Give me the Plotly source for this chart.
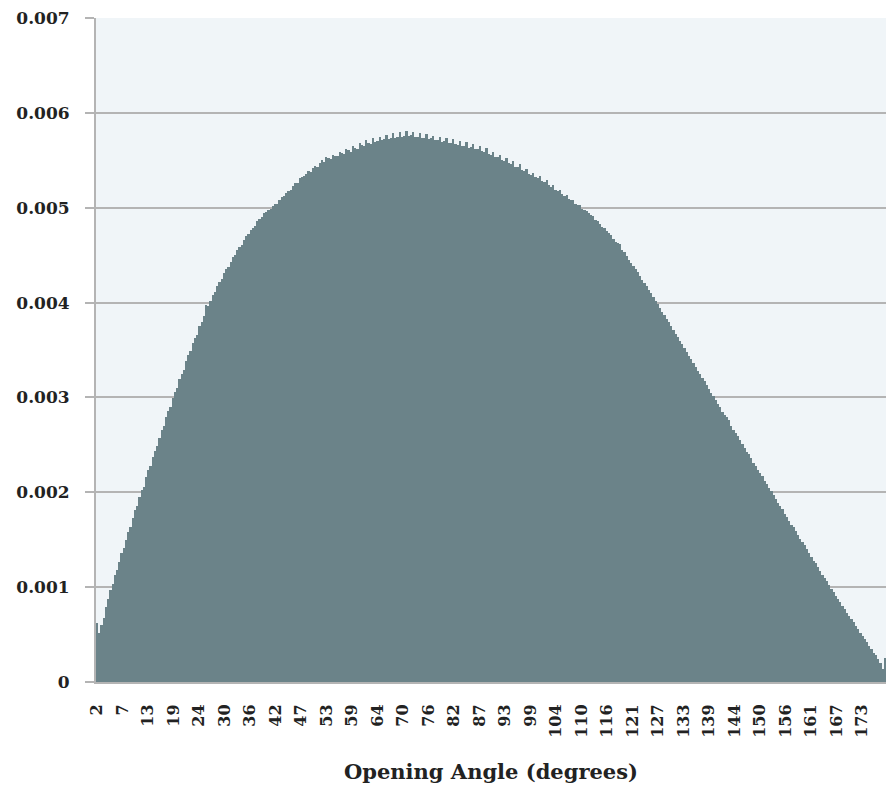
import math
import plotly.graph_objects as go

# Histogram bin centres (degrees), 0.5-degree bins
angle_start = 2.0
bin_width = 0.5

# Normalised frequency, one value per bin (2.0 ... 179.0 deg)
density = [
    0.00062, 0.00052, 0.00060, 0.00068, 0.00079, 0.00087, 0.00097, 0.00103, 0.00113, 0.00118,
    0.00127, 0.00136, 0.00141, 0.00150, 0.00158, 0.00163, 0.00173, 0.00181, 0.00186, 0.00195,
    0.00202, 0.00206, 0.00216, 0.00224, 0.00228, 0.00237, 0.00244, 0.00249, 0.00257, 0.00266,
    0.00270, 0.00279, 0.00286, 0.00290, 0.00299, 0.00306, 0.00310, 0.00319, 0.00325, 0.00329,
    0.00338, 0.00345, 0.00349, 0.00357, 0.00363, 0.00366, 0.00375, 0.00380, 0.00386, 0.00397,
    0.00396, 0.00402, 0.00408, 0.00411, 0.00417, 0.00422, 0.00425, 0.00431, 0.00435, 0.00437,
    0.00443, 0.00448, 0.00450, 0.00455, 0.00459, 0.00461, 0.00466, 0.00470, 0.00472, 0.00477,
    0.00479, 0.00481, 0.00486, 0.00488, 0.00490, 0.00494, 0.00495, 0.00498, 0.00499, 0.00502,
    0.00504, 0.00504, 0.00508, 0.00511, 0.00512, 0.00516, 0.00518, 0.00519, 0.00523, 0.00526,
    0.00526, 0.00531, 0.00532, 0.00533, 0.00536, 0.00539, 0.00538, 0.00542, 0.00544, 0.00543,
    0.00547, 0.00550, 0.00548, 0.00553, 0.00552, 0.00551, 0.00556, 0.00555, 0.00555, 0.00559,
    0.00558, 0.00557, 0.00562, 0.00561, 0.00559, 0.00565, 0.00563, 0.00562, 0.00568, 0.00566,
    0.00565, 0.00571, 0.00568, 0.00567, 0.00574, 0.00569, 0.00570, 0.00575, 0.00571, 0.00572,
    0.00577, 0.00572, 0.00574, 0.00579, 0.00574, 0.00575, 0.00580, 0.00575, 0.00576, 0.00581,
    0.00576, 0.00577, 0.00580, 0.00575, 0.00575, 0.00579, 0.00574, 0.00573, 0.00578, 0.00572,
    0.00573, 0.00576, 0.00571, 0.00571, 0.00575, 0.00569, 0.00570, 0.00573, 0.00568, 0.00568,
    0.00572, 0.00567, 0.00566, 0.00570, 0.00565, 0.00565, 0.00569, 0.00563, 0.00564, 0.00567,
    0.00562, 0.00562, 0.00565, 0.00560, 0.00559, 0.00563, 0.00557, 0.00556, 0.00559, 0.00553,
    0.00553, 0.00556, 0.00550, 0.00549, 0.00552, 0.00547, 0.00546, 0.00549, 0.00543, 0.00543,
    0.00546, 0.00540, 0.00539, 0.00541, 0.00536, 0.00535, 0.00537, 0.00532, 0.00531, 0.00533,
    0.00528, 0.00527, 0.00529, 0.00524, 0.00522, 0.00524, 0.00519, 0.00518, 0.00519, 0.00514,
    0.00512, 0.00513, 0.00509, 0.00508, 0.00508, 0.00504, 0.00503, 0.00503, 0.00499, 0.00498,
    0.00497, 0.00494, 0.00492, 0.00491, 0.00487, 0.00486, 0.00483, 0.00480, 0.00479, 0.00475,
    0.00473, 0.00471, 0.00467, 0.00464, 0.00463, 0.00462, 0.00455, 0.00453, 0.00449, 0.00445,
    0.00442, 0.00439, 0.00435, 0.00432, 0.00428, 0.00424, 0.00421, 0.00417, 0.00413, 0.00410,
    0.00406, 0.00402, 0.00398, 0.00394, 0.00390, 0.00387, 0.00383, 0.00379, 0.00375, 0.00371,
    0.00367, 0.00364, 0.00360, 0.00356, 0.00352, 0.00348, 0.00344, 0.00340, 0.00336, 0.00332,
    0.00328, 0.00325, 0.00321, 0.00317, 0.00313, 0.00309, 0.00305, 0.00301, 0.00297, 0.00293,
    0.00290, 0.00285, 0.00282, 0.00279, 0.00276, 0.00270, 0.00266, 0.00263, 0.00259, 0.00255,
    0.00251, 0.00247, 0.00243, 0.00240, 0.00236, 0.00231, 0.00228, 0.00224, 0.00220, 0.00217,
    0.00212, 0.00209, 0.00205, 0.00201, 0.00197, 0.00193, 0.00189, 0.00186, 0.00182, 0.00177,
    0.00174, 0.00170, 0.00166, 0.00163, 0.00159, 0.00155, 0.00151, 0.00148, 0.00144, 0.00140,
    0.00136, 0.00132, 0.00128, 0.00125, 0.00121, 0.00117, 0.00113, 0.00110, 0.00106, 0.00102,
    0.00098, 0.00095, 0.00091, 0.00088, 0.00084, 0.00080, 0.00077, 0.00073, 0.00070, 0.00066,
    0.00063, 0.00059, 0.00056, 0.00052, 0.00049, 0.00045, 0.00042, 0.00038, 0.00035, 0.00031,
    0.00028, 0.00024, 0.00020, 0.00014, 0.00025,
]

x_tick_labels = ["2", "7", "13", "19", "24", "30", "36", "42", "47", "53", "59", "64",
                 "70", "76", "82", "87", "93", "99", "104", "110", "116", "121", "127",
                 "133", "139", "144", "150", "156", "161", "167", "173"]
y_tick_vals = [0, 0.001, 0.002, 0.003, 0.004, 0.005, 0.006, 0.007]
y_tick_labels = ["0", "0.001", "0.002", "0.003", "0.004", "0.005", "0.006", "0.007"]

angles = [angle_start + i * bin_width for i in range(len(density))]
tick_step = math.degrees(0.1)  # category labels every 0.1 rad
x_tick_vals = [angle_start + i * tick_step for i in range(len(x_tick_labels))]

FONT = "DejaVu Serif"
GRID = "#b4b4b4"

fig = go.Figure()
fig.add_trace(go.Bar(
    x=angles, y=density, width=bin_width,
    marker=dict(color="#6b8389", line=dict(width=0)),
    hoverinfo="x+y",
))

fig.update_layout(
    width=887, height=790,
    margin=dict(l=96, r=1, t=18, b=108),
    paper_bgcolor="white",
    plot_bgcolor="#f0f5f8",
    bargap=0,
    showlegend=False,
    font=dict(family=FONT, color="#222222"),
)
fig.update_xaxes(
    range=[angle_start - bin_width / 2, angles[-1] + bin_width / 2],
    tickmode="array", tickvals=x_tick_vals, ticktext=x_tick_labels,
    tickangle=-90, tickfont=dict(family=FONT, size=16, color="#222222", weight="bold"),
    showgrid=False, zeroline=False,
    showline=True, linecolor=GRID, linewidth=2,
    ticks="", ticklabelstandoff=14,
)
fig.update_yaxes(
    range=[0, 0.007],
    tickmode="array", tickvals=y_tick_vals, ticktext=y_tick_labels,
    tickfont=dict(family=FONT, size=17, color="#222222", weight="bold"),
    showgrid=True, gridcolor=GRID, gridwidth=2,
    zeroline=False,
    showline=True, linecolor=GRID, linewidth=2,
    ticks="outside", ticklen=9, tickcolor=GRID, tickwidth=2,
    ticklabelstandoff=12,
)
fig.add_annotation(
    text="<b>Opening Angle (degrees)</b>",
    xref="paper", yref="paper", x=0.5, y=(682 - 772) / 664,
    xanchor="center", yanchor="middle", showarrow=False,
    font=dict(family=FONT, size=21, color="#222222"),
)

fig.write_html("out.html")
